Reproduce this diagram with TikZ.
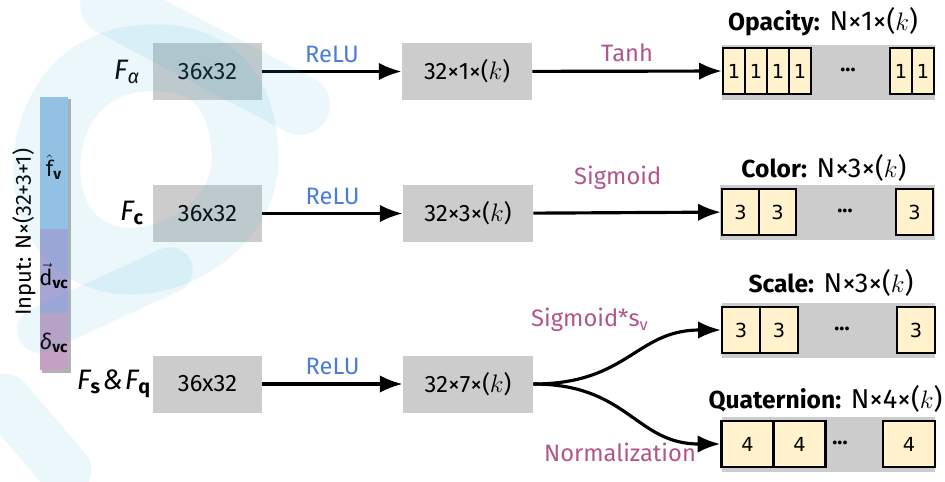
\documentclass[tikz,border=0pt]{standalone}
\usepackage{amsmath}
\usepackage{xcolor}
\usepackage{fontspec}
\setmainfont{Fira Sans}
\newfontfamily\cellfont{DejaVu Sans}
\usepackage{tikz}
\usetikzlibrary{arrows.meta}

\definecolor{boxgray}{RGB}{204,204,204}
\definecolor{cellyellow}{RGB}{255,242,204}
\definecolor{relublue}{RGB}{74,126,214}
\definecolor{actpink}{RGB}{176,86,138}
\definecolor{barblue}{RGB}{157,195,230}
\definecolor{barpurple}{RGB}{165,165,214}
\definecolor{barpink}{RGB}{196,160,196}
\definecolor{wmcyan}{RGB}{70,180,220}

\begin{document}
\begin{tikzpicture}[x=0.02cm,y=-0.02cm,
  >={Latex[length=13pt,width=10pt]},
  conn/.style={->,line width=1.8pt},
  gbox/.style={fill=boxgray,minimum height=1.14cm,inner sep=0pt,font=\fontsize{13.5}{15}\selectfont},
  band/.style={fill=boxgray,minimum width=4.26cm,minimum height=1.1cm,inner sep=0pt},
  cell/.style={draw,line width=1.3pt,fill=cellyellow,minimum width=#1,minimum height=0.93cm,inner sep=0pt,font=\cellfont\fontsize{11}{13}\selectfont},
  dots/.style={font=\bfseries\fontsize{12}{14}\selectfont},
  title/.style={font=\fontsize{15.5}{17}\selectfont},
  relu/.style={text=relublue,font=\fontsize{13.5}{16}\selectfont},
  act/.style={text=actpink,font=\fontsize{13.5}{16}\selectfont},
  flabel/.style={font=\fontsize{16}{18}\selectfont\itshape},
  barpart/.style={minimum width=0.56cm,inner sep=0pt},
  barlabel/.style={font=\fontsize{12.5}{14}\selectfont,inner sep=0pt},
  wm/.style={draw=wmcyan,draw opacity=0.11,line cap=round}]
%\draw[help lines] (0,0)grid[step=50](945,481);
\useasboundingbox (0,0) rectangle (945,481);

% input column
\fill[black,opacity=0.3] (42,99) rectangle (71,373);
\node[barpart,fill=barblue,minimum height=2.64cm] (barf) at (54,163) {};
\node[barpart,fill=barpurple,minimum height=1.68cm] (bard) at (54,271) {};
\node[barpart,fill=barpink,minimum height=1.14cm] (bardel) at (54,341.5) {};
\node[barlabel] (fv) at (54,167) {$\hat{\text{f}}$\textsubscript{\bfseries v}};
\node[barlabel] (dvc) at (54,276) {$\vec{\text{d}}$\textsubscript{\bfseries vc}};
\node[barlabel] (delvc) at (54,343) {\textit{δ}\textsubscript{\bfseries vc}};
\node[rotate=90,inner sep=0pt,font=\fontsize{12.5}{14}\selectfont] (inp) at (24,232) {Input: N×(32+3+1)};

% three heads
\node[flabel] (fa) at (127,72) {F\textsubscript{α}};
\node[flabel] (fc) at (132,213) {F\textsubscript{\upshape\bfseries c}};
\node[flabel,inner sep=0pt] (fsq) at (114,384) {F\textsubscript{\upshape\bfseries s}\kern1pt\&\kern1pt F\textsubscript{\upshape\bfseries q}};

\node[gbox,minimum width=2.18cm] (ain) at (207.5,71.5) {36x32};
\node[gbox,minimum width=2.18cm] (cin) at (207.5,213.5) {36x32};
\node[gbox,minimum width=2.18cm] (sqin) at (207.5,384) {36x32};
\node[gbox,minimum width=2.6cm] (aout) at (467,71.5) {32×1×($k$)};
\node[gbox,minimum width=2.6cm] (cout) at (468,213.5) {32×3×($k$)};
\node[gbox,minimum width=2.6cm] (sqout) at (468,384) {32×7×($k$)};

\draw[conn] (ain)--(aout)node[relu,midway,above=1pt]{ReLU};
\draw[conn] (cin)--(cout)node[relu,midway,above=1pt]{ReLU};
\draw[conn] (sqin)--(sqout)node[relu,midway,above=1pt]{ReLU};

% opacity
\node[title] (optitle) at (823,22) {\textbf{\fontsize{14}{15}\selectfont Opacity:} N×1×($k$)};
\node[band] (opband) at (828.5,72.5) {};
\foreach \i in {0,...,3}
  \node[cell=0.44cm] (op\i) at (734+22*\i,71) {1};
\node[cell=0.44cm] (op4) at (901,71) {1};
\node[cell=0.44cm] (op5) at (923,71) {1};
\node[dots] (opdots) at (848,70) {...};

% color
\node[title] (coltitle) at (824,168) {\textbf{\fontsize{14}{15}\selectfont Color:} N×3×($k$)};
\node[band,minimum width=4.3cm] (colband) at (827.5,212.5) {};
\node[cell=0.74cm] (col0) at (740.5,212) {3};
\node[cell=0.74cm] (col1) at (777.5,212) {3};
\node[cell=0.74cm] (col2) at (914.5,212) {3};
\node[dots] (coldots) at (845,211) {...};

% scale
\node[title] (sctitle) at (831,283) {\textbf{\fontsize{14}{15}\selectfont Scale:} N×3×($k$)};
\node[band] (scband) at (828.5,330.5) {};
\node[cell=0.76cm] (sc0) at (741,330) {3};
\node[cell=0.76cm] (sc1) at (779,330) {3};
\node[cell=0.76cm] (sc2) at (916,330) {3};
\node[dots] (scdots) at (842,329) {...};

% quaternion
\node[title] (qttitle) at (825.5,399) {\textbf{\fontsize{14}{15}\selectfont Quaternion:} N×4×($k$)};
\node[band] (qtband) at (828.5,444.5) {};
\node[cell=1.04cm] (qt0) at (747.5,444) {4};
\node[cell=1.04cm] (qt1) at (799.5,444) {4};
\node[cell=1.04cm] (qt2) at (909,444) {4};
\node[dots] (qtdots) at (840,443) {...};

% activations
\draw[conn] (aout)--(op0)node[act,midway,above=1pt]{Tanh};
\draw[conn] (cout)--(col0)node[act,pos=0.45,above=9pt]{Sigmoid};
\draw[conn] (sqout.east) .. controls +(95,0) and +(-85,0) .. (sc0.west);
\draw[conn] (sqout.east) .. controls +(95,0) and +(-85,0) .. (qt0.west);
\node[act] (sigs) at (590,320) {Sigmoid*s\textsubscript{v}};
\node[act] (norm) at (620,452) {Normalization};

% faint logo behind
\draw[wm,line width=38] (150,58) .. controls (40,58) and (20,200) .. (80,245)
  .. controls (140,290) and (245,235) .. (245,160) .. controls (245,90) and (210,55) .. (150,58);
\draw[wm,line width=34] (110,5)--(300,105);
\draw[wm,line width=30] (5,400)--(65,470);
\draw[wm,line width=26] (40,330)--(170,270);
\end{tikzpicture}
\end{document}
